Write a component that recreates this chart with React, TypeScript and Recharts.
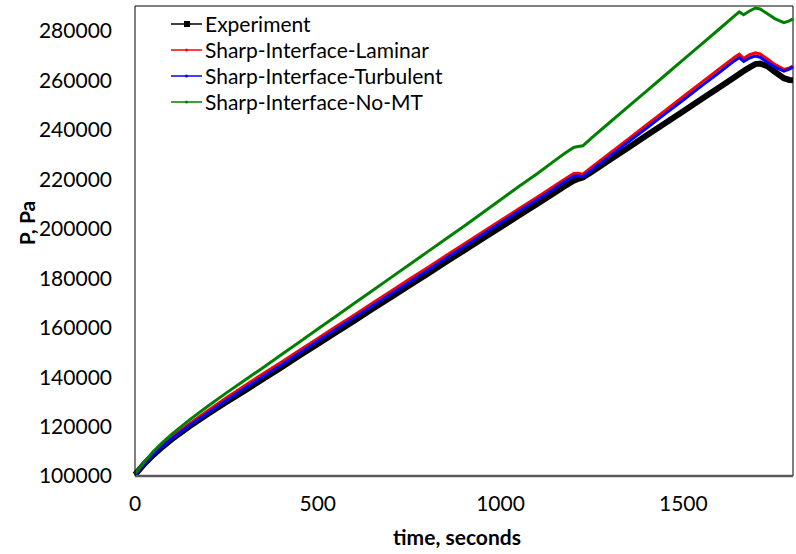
import React from 'react';
import { LineChart, Line, XAxis, YAxis, ReferenceLine, Legend } from 'recharts';

const TIMES = [0, 25, 50, 75, 100, 150, 200, 250, 300, 350, 400, 450, 500, 550, 600, 650, 700, 750, 800, 850, 900, 950, 1000, 1050, 1100, 1150, 1175, 1200, 1212, 1225, 1250, 1300, 1350, 1400, 1450, 1500, 1550, 1600, 1640, 1653, 1665, 1680, 1697, 1710, 1730, 1750, 1775, 1790, 1800];

const EXPERIMENT = [100500, 104800, 108500, 111800, 114800, 120200, 125200, 129900, 134500, 139200, 143900, 148700, 153400, 158100, 162800, 167600, 172300, 177000, 181700, 186500, 191200, 195900, 200600, 205300, 210000, 214700, 217100, 219400, 220100, 220700, 223000, 227900, 232800, 237700, 242600, 247500, 252400, 257300, 261200, 262500, 263700, 265100, 266500, 266700, 265700, 263400, 260800, 260100, 260000];

const LAMINAR = [100500, 104900, 108900, 112400, 115500, 121200, 126500, 131600, 136500, 141300, 146000, 150800, 155600, 160400, 165100, 169900, 174700, 179500, 184200, 189000, 193800, 198500, 203300, 208000, 212700, 217500, 220000, 222300, 222400, 222000, 224900, 230600, 236300, 242000, 247700, 253400, 259100, 264800, 269300, 270500, 268800, 270200, 271100, 270600, 268600, 266400, 264400, 265000, 265700];

const TURBULENT = [100500, 104800, 108600, 112000, 115000, 120500, 125600, 130600, 135500, 140200, 144900, 149700, 154600, 159300, 164100, 168800, 173600, 178300, 183100, 187900, 192700, 197500, 202300, 207000, 211700, 216400, 218900, 221200, 221400, 221000, 223800, 229400, 235100, 240700, 246400, 252000, 257700, 263300, 267900, 269100, 267600, 268900, 269800, 269300, 267300, 265300, 263700, 264500, 265400];

const NO_MT = [101000, 105600, 109900, 113500, 116800, 122800, 128300, 133600, 138700, 143800, 149000, 154200, 159400, 164600, 169800, 175000, 180200, 185400, 190600, 195800, 201000, 206300, 211700, 217000, 222200, 227700, 230400, 232800, 233200, 233500, 236800, 243100, 249400, 255700, 262000, 268300, 274600, 280900, 286000, 287600, 286500, 287900, 289200, 288800, 286900, 284900, 283300, 284000, 284800];

const X_TICKS = [0, 500, 1000, 1500];
const Y_TICKS = [100000, 120000, 140000, 160000, 180000, 200000, 220000, 240000, 260000, 280000];

const SERIES = [
  { key: 'exp', name: 'Experiment', color: '#000000', width: 6, square: true },
  { key: 'lam', name: 'Sharp-Interface-Laminar', color: '#ff0000', width: 3, square: false },
  { key: 'tur', name: 'Sharp-Interface-Turbulent', color: '#0000ff', width: 3, square: false },
  { key: 'nomt', name: 'Sharp-Interface-No-MT', color: '#008000', width: 3, square: false },
];

const data = TIMES.map((t, i) => ({
  t,
  exp: EXPERIMENT[i],
  lam: LAMINAR[i],
  tur: TURBULENT[i],
  nomt: NO_MT[i],
}));

const FONT = 'Lato, "Open Sans", sans-serif';

const renderLegend = () => (
  <div style={{ fontFamily: FONT, fontSize: 21, lineHeight: '24px', color: '#000' }}>
    {SERIES.map((s) => (
      <div key={s.key} style={{ display: 'flex', alignItems: 'center', height: 26, whiteSpace: 'nowrap' }}>
        <svg width={31} height={10} style={{ display: 'block' }}>
          <line x1={0} y1={5} x2={31} y2={5} stroke={s.color} strokeWidth={1.5} />
          {s.square ? (
            <rect x={13} y={2} width={6} height={6} fill={s.color} />
          ) : (
            <circle cx={15.5} cy={5} r={1.5} fill={s.color} />
          )}
        </svg>
        <span style={{ marginLeft: 3, display: 'block' }}>{s.name}</span>
      </div>
    ))}
  </div>
);

const YTitle = (props: any) => {
  const vb = props.viewBox || {};
  const cx = 26;
  const cy = vb.y + vb.height / 2 - 18;
  return (
    <text
      x={cx}
      y={cy}
      transform={`rotate(-90, ${cx}, ${cy})`}
      textAnchor="middle"
      dominantBaseline="central"
      style={{ fontFamily: FONT, fontSize: 21, fontWeight: 700, fill: '#000' }}
    >
      P, Pa
    </text>
  );
};

export default function App() {
  return (
    <div style={{ position: 'absolute', left: 0, top: 0, width: 796, height: 554, background: '#fff' }}>
      <LineChart width={796} height={554} data={data} margin={{ top: 6, right: 3, bottom: 0, left: 0 }}>
        <XAxis
          dataKey="t"
          type="number"
          domain={[0, 1800]}
          ticks={X_TICKS}
          interval={0}
          tickLine={false}
          axisLine={{ stroke: '#595959', strokeWidth: 2.5 }}
          height={78}
          tickMargin={14}
          tick={{ fill: '#000', fontSize: 21, fontFamily: FONT }}
          label={{
            value: 'time, seconds',
            position: 'insideBottom',
            offset: 9,
            dx: -7,
            style: { fontFamily: FONT, fontSize: 21, fontWeight: 700, fill: '#000' },
          }}
        />
        <YAxis
          type="number"
          domain={[100000, 290000]}
          ticks={Y_TICKS}
          interval={0}
          width={135}
          tickLine={false}
          axisLine={{ stroke: '#000', strokeWidth: 1 }}
          tickMargin={17}
          tick={{ fill: '#000', fontSize: 21, fontFamily: FONT }}
          label={<YTitle />}
        />
        <ReferenceLine y={290000} stroke="#000" strokeWidth={1} />
        <ReferenceLine x={1800} stroke="#000" strokeWidth={1} />
        {SERIES.map((s) => (
          <Line
            key={s.key}
            dataKey={s.key}
            name={s.name}
            stroke={s.color}
            strokeWidth={s.width}
            dot={false}
            activeDot={false}
            type="linear"
            isAnimationActive={false}
          />
        ))}
        <Legend
          content={renderLegend}
          layout="vertical"
          align="center"
          verticalAlign="middle"
          wrapperStyle={{ left: 171, top: 11, width: 360, height: 106 }}
        />
      </LineChart>
    </div>
  );
}
